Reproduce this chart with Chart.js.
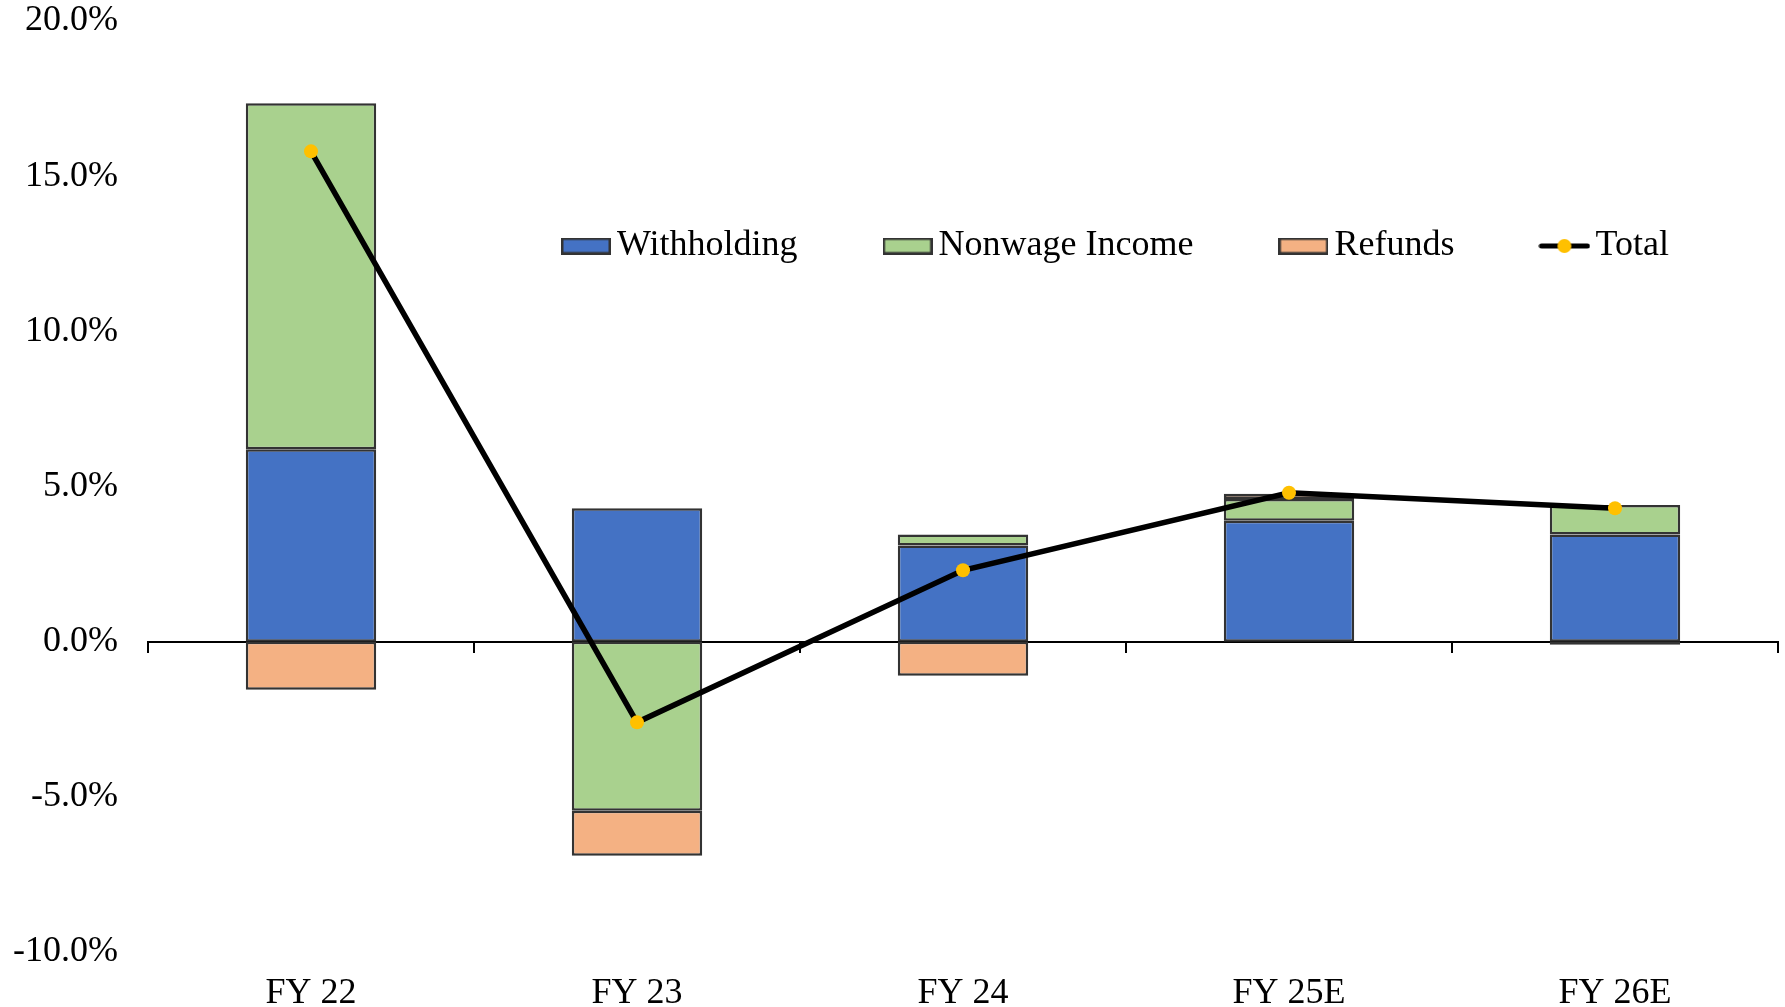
<!DOCTYPE html>
<html>
<head>
<meta charset="utf-8">
<script src="https://cdn.jsdelivr.net/npm/chart.js@4.4.1/dist/chart.umd.min.js"></script>
<style>
  html, body { margin: 0; padding: 0; background: #ffffff; }
  #wrap { width: 1785px; height: 1007px; position: relative; }
</style>
</head>
<body>
<div id="wrap"><canvas id="chart"></canvas></div>
<script>
// Year-over-year growth contributions (percent)
const categories    = ['FY 22', 'FY 23', 'FY 24', 'FY 25E', 'FY 26E'];
const seriesNames   = ['Withholding', 'Nonwage Income', 'Refunds', 'Total'];
const withholding   = [6.2, 4.3, 3.1, 3.9, 3.45];
const nonwageIncome = [11.15, -5.45, 0.35, 0.7, 0.95];
const refunds       = [-1.55, -1.45, -1.1, 0.17, -0.1];
const total         = [15.8, -2.6, 2.3, 4.8, 4.3];
const yTickValues   = [-10, -5, 0, 5, 10, 15, 20];

const COLORS = {
  withholding: '#4472C4',
  nonwage: '#A9D18E',
  refunds: '#F4B183',
  total: '#000000',
  marker: '#FFC000',
  edge: '#333333'
};

Chart.defaults.font.family = "'Liberation Serif', 'Times New Roman', serif";
Chart.defaults.font.size = 36;
Chart.defaults.color = '#000000';

// Legend swatches: filled box with outline, and a line with a dot for the total
function boxSwatch(fill) {
  const c = document.createElement('canvas');
  c.width = 50; c.height = 17;
  const g = c.getContext('2d');
  g.fillStyle = fill;
  g.fillRect(0, 0, 50, 17);
  g.strokeStyle = COLORS.edge;
  g.lineWidth = 2.5;
  g.strokeRect(1.25, 1.25, 47.5, 14.5);
  return c;
}
function lineSwatch() {
  const c = document.createElement('canvas');
  c.width = 52; c.height = 16;
  const g = c.getContext('2d');
  g.strokeStyle = COLORS.total;
  g.lineWidth = 5;
  g.lineCap = 'round';
  g.beginPath(); g.moveTo(3, 8); g.lineTo(49, 8); g.stroke();
  g.fillStyle = COLORS.marker;
  g.beginPath(); g.arc(26, 8, 7, 0, Math.PI * 2); g.fill();
  return c;
}
const legendStyles = [
  boxSwatch(COLORS.withholding),
  boxSwatch(COLORS.nonwage),
  boxSwatch(COLORS.refunds),
  lineSwatch()
];

// Puts the legend row inside the plot area, below the top edge
const legendPlacement = {
  id: 'legendPlacement',
  afterLayout(chart) {
    const lg = chart.legend;
    const area = chart.chartArea;
    if (!lg) return;
    lg.left = area.left + 328;
    lg.right = chart.width;
    lg.top = area.top + 110;
    lg.bottom = lg.top + 200;
  }
};

function barSet(label, data, color) {
  return {
    type: 'bar',
    label,
    data,
    backgroundColor: color,
    borderColor: COLORS.edge,
    borderWidth: 2.5,
    borderSkipped: false,
    categoryPercentage: 0.8,
    barPercentage: 0.5,
    order: 1
  };
}

new Chart(document.getElementById('chart'), {
  data: {
    labels: categories,
    datasets: [
      barSet(seriesNames[0], withholding, COLORS.withholding),
      barSet(seriesNames[1], nonwageIncome, COLORS.nonwage),
      barSet(seriesNames[2], refunds, COLORS.refunds),
      {
        type: 'line',
        label: seriesNames[3],
        data: total,
        stack: 'total',
        borderColor: COLORS.total,
        borderWidth: 5.5,
        tension: 0,
        fill: false,
        pointRadius: 7,
        pointHoverRadius: 7,
        pointBackgroundColor: COLORS.marker,
        pointBorderColor: COLORS.marker,
        pointBorderWidth: 0,
        order: 0
      }
    ]
  },
  options: {
    responsive: true,
    maintainAspectRatio: false,
    animation: false,
    events: [],
    layout: { padding: { top: 20, right: 6, bottom: 0, left: 0 } },
    scales: {
      x: {
        type: 'category',
        stacked: true,
        offset: true,
        grid: { display: false },
        border: { display: false },
        ticks: { padding: 12, maxRotation: 0, autoSkip: false },
        afterFit(scale) { scale.height = 55; }
      },
      xZero: {
        type: 'category',
        position: { y: 0 },
        offset: true,
        grid: {
          display: true,
          offset: true,
          drawOnChartArea: false,
          drawTicks: true,
          tickLength: 10,
          color: '#000000',
          lineWidth: 2
        },
        border: { display: true, color: '#000000', width: 2 },
        ticks: { display: false },
        afterFit(scale) { scale.height = 0; }
      },
      y: {
        stacked: true,
        min: yTickValues[0],
        max: yTickValues[yTickValues.length - 1],
        grid: { display: false },
        border: { display: false },
        ticks: {
          padding: 22,
          callback: (v) => v.toFixed(1) + '%'
        },
        afterBuildTicks(scale) {
          scale.ticks = yTickValues.map(v => ({ value: v }));
        },
        afterFit(scale) {
          scale.width = 148;
          scale.paddingTop = 0;
          scale.paddingBottom = 0;
        }
      }
    },
    plugins: {
      tooltip: { enabled: false },
      legend: {
        position: 'top',
        align: 'start',
        maxHeight: 1,
        onClick: null,
        labels: {
          usePointStyle: true,
          boxWidth: 26,
          padding: 97,
          color: '#000000',
          font: { size: 36 },
          generateLabels: () => seriesNames.map((name, i) => ({
            text: name,
            pointStyle: legendStyles[i],
            fillStyle: 'rgba(0,0,0,0)',
            strokeStyle: 'rgba(0,0,0,0)',
            lineWidth: 0,
            hidden: false,
            datasetIndex: i,
            fontColor: '#000000'
          }))
        }
      }
    }
  },
  plugins: [legendPlacement]
});
</script>
</body>
</html>
